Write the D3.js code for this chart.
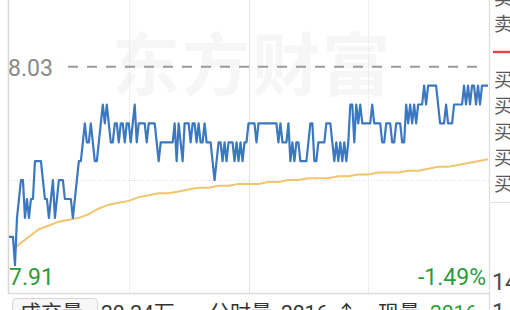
<!DOCTYPE html>
<html>
<head>
<meta charset="utf-8">
<script src="https://cdn.jsdelivr.net/npm/d3@7"></script>
<style>
  html, body { margin: 0; padding: 0; background: #fff; overflow: hidden; }
  svg { display: block; font-family: Roboto, "Noto Sans CJK SC", sans-serif; }
</style>
</head>
<body>
<svg id="chart" width="510" height="310"></svg>
<script>
// minute prices, one per minute (241 minutes)
var price = [
  7.94, 7.94, 7.94, 7.925, 7.95, 7.96, 7.97, 7.97, 7.95, 7.96,
  7.95, 7.96, 7.96, 7.98, 7.98, 7.98, 7.98, 7.97, 7.96, 7.96,
  7.95, 7.96, 7.97, 7.95, 7.96, 7.97, 7.97, 7.97, 7.96, 7.96,
  7.96, 7.96, 7.95, 7.96, 7.97, 7.98, 7.98, 7.99, 8.00, 7.99,
  7.99, 8.00, 7.99, 7.98, 7.98, 7.99, 8.00, 8.01, 8.00, 8.01,
  8.00, 7.99, 7.99, 8.00, 8.00, 7.99, 8.00, 8.00, 7.99, 8.00,
  8.00, 7.99, 8.00, 8.01, 7.99, 8.00, 8.00, 8.00, 8.00, 7.99,
  8.00, 8.00, 8.00, 8.00, 7.99, 7.98, 7.99, 7.99, 7.99, 7.99,
  7.99, 7.99, 7.99, 8.00, 7.98, 8.00, 7.99, 7.98, 8.00, 8.00,
  8.00, 7.99, 8.00, 8.00, 7.99, 8.00, 7.99, 7.99, 8.00, 7.99,
  7.99, 7.99, 7.98, 7.97, 7.98, 7.99, 7.99, 7.98, 7.99, 7.98,
  7.99, 7.99, 7.99, 7.98, 7.99, 7.98, 7.99, 7.98, 7.99, 7.99,
  8.00, 8.00, 8.00, 8.00, 7.99, 8.00, 8.00, 8.00, 8.00, 8.00,
  8.00, 8.00, 8.00, 8.00, 8.00, 7.99, 8.00, 7.99, 7.99, 7.99,
  8.00, 7.98, 7.99, 7.98, 7.99, 7.99, 7.98, 7.98, 7.98, 7.98,
  7.99, 8.00, 8.00, 7.98, 7.98, 7.99, 7.99, 7.99, 7.99, 8.00,
  8.00, 8.00, 7.99, 7.98, 7.99, 7.98, 7.99, 7.98, 7.99, 7.98,
  7.99, 8.01, 8.01, 7.99, 8.01, 8.00, 8.01, 8.00, 8.00, 8.00,
  8.00, 8.00, 8.01, 8.00, 8.00, 8.00, 8.00, 7.99, 7.99, 8.00,
  8.00, 8.00, 7.99, 7.99, 8.00, 8.00, 8.00, 7.99, 7.99, 8.01,
  8.00, 8.01, 8.00, 8.01, 8.00, 8.01, 8.01, 8.01, 8.02, 8.01,
  8.02, 8.02, 8.02, 8.02, 8.02, 8.01, 8.00, 8.00, 8.00, 8.01,
  8.00, 8.00, 8.00, 8.01, 8.01, 8.01, 8.01, 8.01, 8.02, 8.01,
  8.02, 8.01, 8.02, 8.02, 8.01, 8.02, 8.01, 8.02, 8.02, 8.02,
  8.02
];

// average price line, read every 5 minutes (first minutes hidden under the price)
var avgMinute = [3, 5, 10, 15, 20, 25, 30, 35, 40, 45, 50, 55, 60, 65, 70, 75, 80, 85, 90,
  95, 100, 105, 110, 115, 120, 125, 130, 135, 140, 145, 150, 155, 160, 165, 170, 175, 180,
  185, 190, 195, 200, 205, 210, 215, 220, 225, 230, 235, 240];
var avgPrice = [7.934, 7.936, 7.940, 7.944, 7.946, 7.948, 7.949, 7.950, 7.952,
  7.955, 7.957, 7.958, 7.959, 7.961, 7.962, 7.963, 7.963, 7.964, 7.965,
  7.966, 7.966, 7.967, 7.967, 7.968, 7.968, 7.968, 7.969, 7.969, 7.970,
  7.970, 7.971, 7.971, 7.971, 7.972, 7.972, 7.973, 7.973, 7.974, 7.974,
  7.974, 7.975, 7.975, 7.976, 7.977, 7.977, 7.978, 7.979, 7.980, 7.981];

var prevClose = 8.03;
var lowLabel = "7.91";
var pctLabel = "-1.49%";
var gridMinutes = [60, 120, 180];
var sellLabels = ["卖", "卖"];
var buyLabels = ["买", "买", "买", "买", "买"];
var sideNumbers = ["14", "1"];

var svg = d3.select("#chart");
var left = 8, right = 489, bottom = 293.5;

var x = d3.scaleLinear().domain([0, 240]).range([left + 1, right - 1]);
var y = d3.scaleLinear().domain([7.91, 8.03]).range([bottom, 66.7]);

// watermark
svg.append("text")
  .attr("x", 252).attr("y", 90)
  .attr("text-anchor", "middle")
  .attr("font-family", "'Noto Sans CJK SC'")
  .attr("font-weight", "bold")
  .attr("font-size", 68)
  .attr("letter-spacing", 2)
  .attr("fill", "#f6f6f6")
  .text("东方财富");

// grid
svg.selectAll(".vgrid")
  .data(gridMinutes)
  .join("line")
  .attr("class", "vgrid")
  .attr("x1", d => Math.round(x(d)) + 0.5).attr("x2", d => Math.round(x(d)) + 0.5)
  .attr("y1", 0).attr("y2", bottom)
  .attr("stroke", "#e2e2e2")
  .attr("stroke-dasharray", d => d == 120 ? null : "1,1");

svg.append("line")
  .attr("x1", left).attr("x2", right)
  .attr("y1", Math.round(y(7.97)) + 0.5).attr("y2", Math.round(y(7.97)) + 0.5)
  .attr("stroke", "#dcdcdc")
  .attr("stroke-dasharray", "1,2");

// frame
svg.append("line")
  .attr("x1", left + 0.5).attr("x2", left + 0.5)
  .attr("y1", 0).attr("y2", bottom)
  .attr("stroke", "#d8d8d8").attr("stroke-width", 1.5);
svg.append("line")
  .attr("x1", left).attr("x2", right)
  .attr("y1", bottom).attr("y2", bottom)
  .attr("stroke", "#dcdcdc").attr("stroke-width", 1.5);
svg.append("line")
  .attr("x1", right + 0.5).attr("x2", right + 0.5)
  .attr("y1", 0).attr("y2", 310)
  .attr("stroke", "#dedede").attr("stroke-width", 1.2);
svg.append("line")
  .attr("x1", right).attr("x2", 510)
  .attr("y1", 202.5).attr("y2", 202.5)
  .attr("stroke", "#e2e2e2");

// previous close dashed line
svg.append("line")
  .attr("x1", 68).attr("x2", 480)
  .attr("y1", y(prevClose)).attr("y2", y(prevClose))
  .attr("stroke", "#9a9a9a")
  .attr("stroke-width", 2)
  .attr("stroke-dasharray", "10,9");

// average line
var avgData = avgMinute.map((m, i) => [m, avgPrice[i]]);
svg.append("path")
  .datum(avgData)
  .attr("fill", "none")
  .attr("stroke", "#f1c56c")
  .attr("stroke-width", 2)
  .attr("d", d3.line().x(d => x(d[0])).y(d => y(d[1])));

// price line
svg.append("path")
  .datum(price)
  .attr("fill", "none")
  .attr("stroke", "#3c78c0")
  .attr("stroke-width", 2.2)
  .attr("stroke-linejoin", "round")
  .attr("d", d3.line().x((d, i) => x(i)).y(d => y(d)));

// axis labels
svg.append("text")
  .attr("x", left).attr("y", 75.5)
  .attr("font-size", 23).attr("fill", "#8a8a8a")
  .text(prevClose.toFixed(2));
svg.append("text")
  .attr("x", left + 1).attr("y", 285)
  .attr("font-size", 23).attr("fill", "#2d9a3b")
  .text(lowLabel);
svg.append("text")
  .attr("x", right - 3).attr("y", 285)
  .attr("text-anchor", "end")
  .attr("font-size", 23).attr("fill", "#2d9a3b")
  .text(pctLabel);

// right panel (order book, cut off by the frame)
var panel = svg.append("g")
  .attr("font-family", "'Noto Sans CJK SC'")
  .attr("font-size", 19)
  .attr("fill", "#5a5a5a");
panel.selectAll(".sell")
  .data(sellLabels)
  .join("text")
  .attr("class", "sell")
  .attr("x", 494).attr("y", (d, i) => 5 + i * 26)
  .text(d => d);
svg.append("line")
  .attr("x1", 493).attr("x2", 510)
  .attr("y1", 52).attr("y2", 52)
  .attr("stroke", "#e04848").attr("stroke-width", 2.5);
panel.selectAll(".buy")
  .data(buyLabels)
  .join("text")
  .attr("class", "buy")
  .attr("x", 494).attr("y", (d, i) => 87 + i * 26)
  .text(d => d);
svg.selectAll(".num")
  .data(sideNumbers)
  .join("text")
  .attr("class", "num")
  .attr("x", 492).attr("y", (d, i) => 290 + i * 30)
  .attr("font-size", 23).attr("fill", "#4a4a4a")
  .text(d => d);

// volume header row
svg.append("rect")
  .attr("x", 12.5).attr("y", 298.5)
  .attr("width", 85).attr("height", 30).attr("rx", 4)
  .attr("fill", "#f7f7f7").attr("stroke", "#d6d6d6");
var row = svg.append("text")
  .attr("y", 320)
  .attr("font-size", 21)
  .attr("fill", "#333");
row.append("tspan").attr("x", 20).attr("font-family", "'Noto Sans CJK SC'").text("成交量");
row.append("tspan").attr("x", 101).text("20.24万");
row.append("tspan").attr("x", 209).attr("font-family", "'Noto Sans CJK SC'").text("分时量");
row.append("tspan").attr("x", 281).text("2016");
row.append("tspan").attr("x", 336).text("↑");
row.append("tspan").attr("x", 378).attr("font-family", "'Noto Sans CJK SC'").text("现量");
row.append("tspan").attr("x", 430).attr("fill", "#2d9a3b").text("2016");
</script>
</body>
</html>
